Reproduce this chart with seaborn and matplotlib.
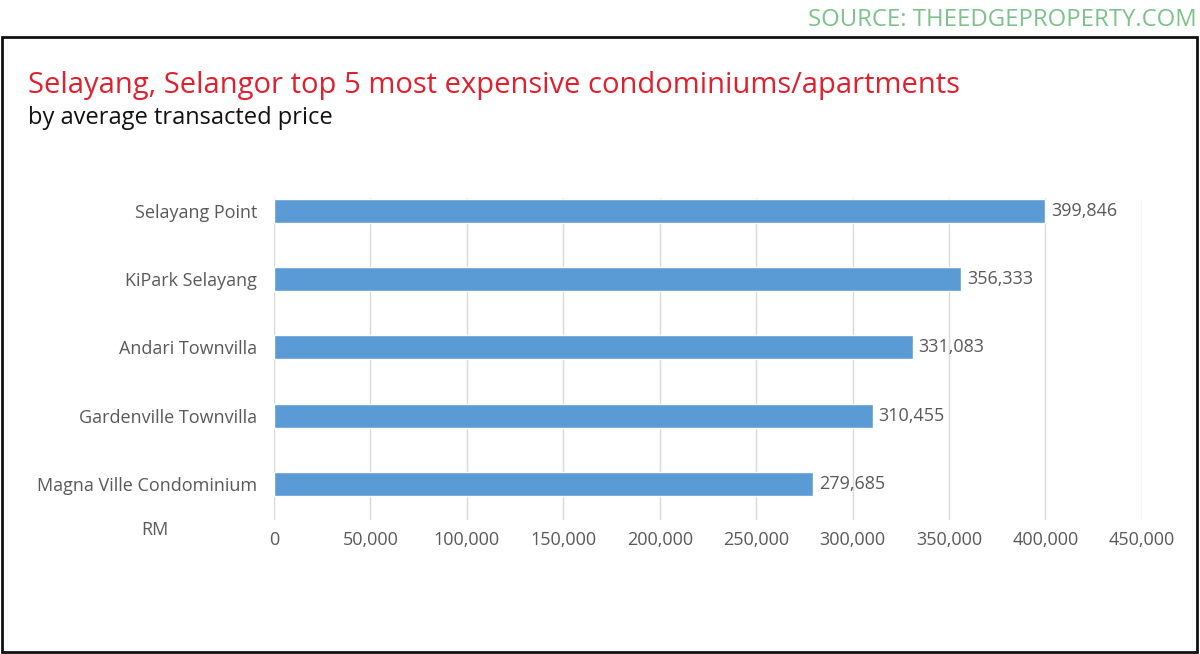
import matplotlib
matplotlib.use('Agg')
import matplotlib.pyplot as plt
import matplotlib.ticker as mticker
from matplotlib.patches import Rectangle
import seaborn as sns
import pandas as pd

projects = ['Selayang Point', 'KiPark Selayang', 'Andari Townvilla',
            'Gardenville Townvilla', 'Magna Ville Condominium']
avg_price = [399846, 356333, 331083, 310455, 279685]
x_ticks = [0, 50000, 100000, 150000, 200000, 250000, 300000, 350000, 400000, 450000]

df = pd.DataFrame({'project': projects, 'price': avg_price})

sns.set_theme(style='white')
plt.rcParams['font.family'] = ['Open Sans', 'DejaVu Sans']

fig = plt.figure(figsize=(12, 6.54), dpi=100)
ax = fig.add_axes([0.2283, 0.2049, 0.7233, 0.4924])

sns.barplot(data=df, x='price', y='project', orient='h', color='#5b9bd5',
            saturation=1, width=0.35, ax=ax)

ax.set_xlim(0, 450000)
ax.set_ylim(4.53, -0.19)
ax.set_xticks(x_ticks)
ax.xaxis.set_major_formatter(mticker.FuncFormatter(lambda v, p: f'{int(v):,}'))
ax.grid(axis='x', color='#d9d9d9', linewidth=1)
ax.set_axisbelow(True)
for s in ax.spines.values():
    s.set_visible(False)
ax.tick_params(axis='x', length=0, pad=8, labelsize=13, labelcolor='#595959')
ax.tick_params(axis='y', length=0, pad=12, labelsize=13, labelcolor='#595959')
ax.set_xlabel('')
ax.set_ylabel('')

for i, v in enumerate(avg_price):
    ax.text(v + 3000, i, f'{v:,}', va='center', ha='left', fontsize=13, color='#595959')

fig.text(155 / 1200, 1 - 530 / 654, 'RM', ha='center', va='center', fontsize=13, color='#595959')

# frame and headings
fig.patches.append(Rectangle((2 / 1200, 2 / 654), 1195 / 1200, 615 / 654,
                             transform=fig.transFigure, fill=False,
                             edgecolor='#111111', linewidth=2))
fig.text(1197 / 1200, 1 - 20 / 654, 'SOURCE: THEEDGEPROPERTY.COM', ha='right', va='center',
         fontsize=17.2, color='#7cc28a')
fig.text(28 / 1200, 1 - 86 / 654, 'Selayang, Selangor top 5 most expensive condominiums/apartments',
         ha='left', va='center', fontsize=21, color='#e0202e')
fig.text(28 / 1200, 1 - 118 / 654, 'by average transacted price', ha='left', va='center',
         fontsize=17, color='#111111')

fig.savefig('out.png', dpi=100, facecolor='white')
